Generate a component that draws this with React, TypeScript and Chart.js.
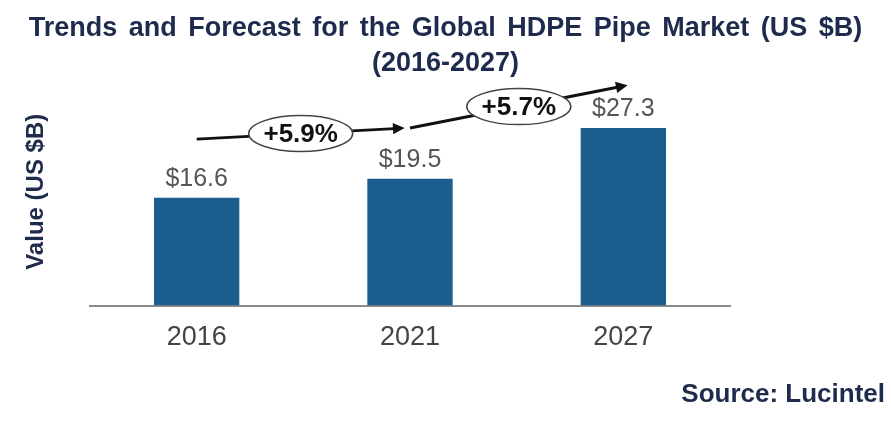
import React, { useEffect, useRef } from 'react';
import { Chart, registerables } from 'chart.js';

Chart.register(...registerables);

// ---- DATA ----
const years = ['2016', '2021', '2027'];
const marketValues = [16.6, 19.5, 27.3];
const valueLabels = ['$16.6', '$19.5', '$27.3'];
const cagrLabels = ['+5.9%', '+5.7%'];
const titleLines = ['Trends and Forecast for the Global HDPE Pipe Market (US $B)', '(2016-2027)'];
const sourceText = 'Source: Lucintel';

const TITLE_COLOR = '#1f2b4d';
const BAR_COLOR = '#1b5d8d';
const FONT = "'Liberation Sans', Arial, sans-serif";

// trend arrows, in (category index, value) space
const ARROWS = [
  { from: [0, 25.6], to: [0.975, 27.3] },
  { from: [1.0, 27.3], to: [2.02, 33.9] },
];

const valueLabelPlugin = {
  id: 'valueLabels',
  afterDatasetsDraw(chart: any) {
    const { ctx } = chart;
    const meta = chart.getDatasetMeta(0);
    ctx.save();
    ctx.font = `25px ${FONT}`;
    ctx.fillStyle = '#555555';
    ctx.textAlign = 'center';
    ctx.textBaseline = 'middle';
    meta.data.forEach((bar: any, i: number) => {
      ctx.fillText(valueLabels[i], bar.x, bar.y - 19);
    });
    ctx.restore();
  },
};

const trendPlugin = {
  id: 'trendArrows',
  afterDatasetsDraw(chart: any) {
    const { ctx, scales: { x, y } } = chart;
    ctx.save();
    ARROWS.forEach((a, i) => {
      const x1 = x.getPixelForValue(a.from[0]);
      const y1 = y.getPixelForValue(a.from[1]);
      const x2 = x.getPixelForValue(a.to[0]);
      const y2 = y.getPixelForValue(a.to[1]);
      const ang = Math.atan2(y2 - y1, x2 - x1);
      const head = 13;

      ctx.strokeStyle = '#111';
      ctx.lineWidth = 3;
      ctx.beginPath();
      ctx.moveTo(x1, y1);
      ctx.lineTo(x2 - Math.cos(ang) * head * 0.8, y2 - Math.sin(ang) * head * 0.8);
      ctx.stroke();

      ctx.fillStyle = '#111';
      ctx.beginPath();
      ctx.moveTo(x2, y2);
      ctx.lineTo(x2 - Math.cos(ang - 0.45) * head, y2 - Math.sin(ang - 0.45) * head);
      ctx.lineTo(x2 - Math.cos(ang + 0.45) * head, y2 - Math.sin(ang + 0.45) * head);
      ctx.closePath();
      ctx.fill();

      const cx = (x1 + x2) / 2;
      const cy = (y1 + y2) / 2;
      ctx.beginPath();
      ctx.ellipse(cx, cy, 52, 18, 0, 0, Math.PI * 2);
      ctx.fillStyle = '#fff';
      ctx.fill();
      ctx.lineWidth = 1.5;
      ctx.strokeStyle = '#444';
      ctx.stroke();

      ctx.fillStyle = '#111';
      ctx.font = `bold 26px ${FONT}`;
      ctx.textAlign = 'center';
      ctx.textBaseline = 'middle';
      ctx.fillText(cagrLabels[i], cx, cy + 1);
    });
    ctx.restore();
  },
};

const App: React.FC = () => {
  const canvasRef = useRef<HTMLCanvasElement>(null);
  const chartRef = useRef<Chart | null>(null);

  useEffect(() => {
    document.body.style.margin = '0';
    if (!canvasRef.current) return;
    chartRef.current = new Chart(canvasRef.current, {
      type: 'bar',
      data: {
        labels: years,
        datasets: [{
          label: 'Value (US $B)',
          data: marketValues,
          backgroundColor: BAR_COLOR,
          barPercentage: 0.4,
          categoryPercentage: 1,
        }],
      },
      options: {
        animation: false,
        responsive: true,
        maintainAspectRatio: false,
        layout: { padding: { left: 6, right: 161, top: 78, bottom: 55 } },
        plugins: {
          legend: { display: false },
          tooltip: { enabled: false },
        },
        scales: {
          x: {
            grid: { display: false, drawTicks: false },
            border: { display: true, color: '#8a8a8a', width: 2 },
            ticks: { color: '#444', font: { family: FONT, size: 27 }, padding: 16 },
          },
          y: {
            min: 0,
            max: 35,
            grid: { display: false, drawTicks: false },
            border: { display: false },
            ticks: { display: false },
            title: {
              display: true,
              text: 'Value (US $B)',
              color: TITLE_COLOR,
              font: { family: FONT, size: 24, weight: 'bold' },
              padding: { top: 16, bottom: 0 },
            },
            afterFit: (s: any) => { s.width = 84; },
          },
        },
      } as any,
      plugins: [valueLabelPlugin, trendPlugin],
    });
    return () => chartRef.current?.destroy();
  }, []);

  return (
    <div style={{ position: 'relative', width: 891, height: 425, fontFamily: FONT }}>
      <canvas ref={canvasRef} aria-label="Global HDPE pipe market bar chart" role="img" />
      <div style={{ position: 'absolute', top: 10, left: 0, width: 891, textAlign: 'center', color: TITLE_COLOR, fontWeight: 'bold', fontSize: 27, lineHeight: '35px', wordSpacing: 4, pointerEvents: 'none' }}>
        {titleLines.map((t) => <div key={t}>{t}</div>)}
      </div>
      <div style={{ position: 'absolute', top: 378, right: 6, color: TITLE_COLOR, fontWeight: 'bold', fontSize: 26, lineHeight: '30px', pointerEvents: 'none' }}>
        {sourceText}
      </div>
    </div>
  );
};

export default App;
